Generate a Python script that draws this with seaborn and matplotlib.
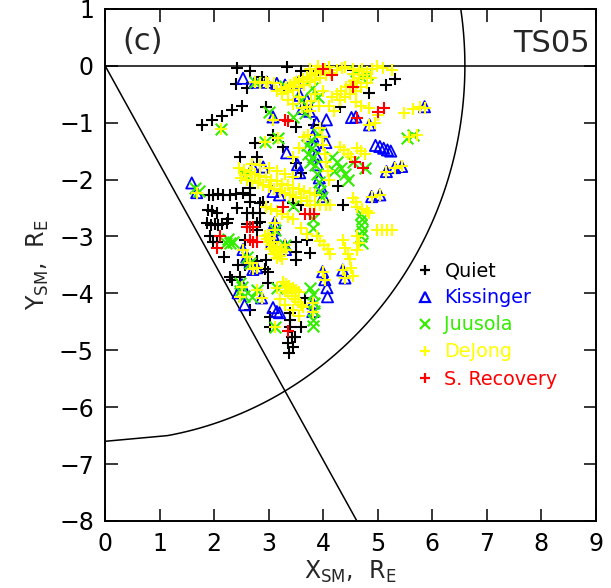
import numpy as np
import pandas as pd
import matplotlib
matplotlib.use("Agg")
import matplotlib.pyplot as plt
from matplotlib.lines import Line2D
import seaborn as sns

# Observed positions (X_SM, Y_SM in Earth radii) for each event group
quiet_pts = np.array([
    (2.42, -0.04), (2.65, -0.10), (2.87, -0.19), (2.40, -0.32), (2.60, -0.39), (3.33, -0.02),
    (3.60, -0.10), (3.75, -0.10), (3.90, -0.07), (4.54, -0.07), (4.85, -0.48), (5.16, -0.34),
    (5.31, -0.23), (1.78, -1.04), (1.96, -0.95), (2.14, -0.88), (2.33, -0.77), (2.51, -0.70),
    (2.96, -0.72), (4.30, -0.72), (3.51, -1.07), (3.84, -1.04), (3.08, -1.21), (3.26, -1.42),
    (2.75, -1.35), (2.47, -1.60), (2.78, -1.60), (3.51, -1.71), (3.60, -1.88), (4.27, -2.12),
    (1.90, -2.27), (1.98, -2.27), (2.08, -2.25), (2.17, -2.28), (2.29, -2.27), (2.40, -2.25),
    (2.53, -2.24), (2.66, -2.27), (2.66, -2.39), (2.84, -2.41), (2.96, -2.48), (2.66, -2.14),
    (2.90, -2.40), (3.44, -2.41), (3.60, -2.44), (4.36, -2.44), (1.89, -2.53), (1.96, -2.55),
    (2.05, -2.58), (2.42, -2.50), (2.60, -2.58), (2.71, -2.58), (2.84, -2.58), (1.87, -2.76),
    (1.94, -2.80), (2.01, -2.79), (2.08, -2.80), (2.14, -2.79), (2.23, -2.76), (2.25, -2.70),
    (2.60, -2.79), (2.78, -2.76), (2.84, -2.74), (2.78, -2.88), (1.92, -3.00), (1.98, -3.09),
    (2.06, -3.10), (2.56, -3.06), (2.18, -3.36), (3.51, -3.09), (3.51, -3.27), (3.51, -3.41),
    (3.71, -3.06), (3.75, -3.29), (2.29, -3.71), (2.33, -3.76), (2.47, -3.71), (2.44, -3.50),
    (2.56, -3.50), (2.66, -3.46), (2.78, -3.44), (2.96, -3.41), (2.93, -3.58), (2.99, -3.62),
    (2.99, -3.81), (2.66, -4.29), (3.02, -4.41), (3.02, -4.59), (3.39, -4.34), (3.39, -4.46),
    (3.39, -4.60), (3.42, -4.76), (3.35, -4.87), (3.48, -4.76), (3.60, -4.59), (3.66, -4.08),
    (3.38, -5.05), (3.45, -4.95),
])

kissinger_pts = np.array([
    (2.53, -0.22), (2.75, -0.29), (2.96, -0.29), (3.15, -0.31), (3.30, -0.34), (3.51, -0.29),
    (3.57, -0.52), (3.70, -0.60), (3.08, -0.90), (3.88, -1.00), (4.06, -0.95), (4.52, -0.91),
    (4.60, -0.90), (4.85, -1.04), (3.33, -1.53), (3.81, -1.24), (3.84, -1.40), (3.87, -1.57),
    (3.90, -1.74), (3.93, -1.97), (3.97, -2.15), (4.00, -2.30), (4.02, -1.15), (4.05, -1.35),
    (4.96, -1.40), (5.04, -1.42), (5.11, -1.45), (5.18, -1.48), (5.24, -1.50), (5.16, -1.86),
    (5.31, -1.79), (5.44, -1.77), (5.86, -0.72), (4.89, -2.30), (5.04, -2.27), (2.71, -1.78),
    (2.90, -1.78), (3.53, -1.74), (3.57, -1.88), (3.08, -2.21), (3.20, -2.27), (1.59, -2.06),
    (1.68, -2.23), (2.53, -3.23), (2.60, -3.36), (2.66, -3.46), (2.71, -3.58), (2.78, -3.55),
    (2.44, -3.99), (2.51, -3.85), (2.87, -4.08), (3.11, -2.76), (3.11, -2.88), (3.08, -2.97),
    (3.06, -3.09), (3.30, -3.15), (3.31, -3.23), (3.99, -3.62), (4.03, -3.76), (4.07, -3.90),
    (4.08, -4.06), (4.36, -3.59), (4.40, -3.73), (3.08, -4.25), (3.15, -4.32), (3.20, -4.34),
    (3.81, -4.17), (3.81, -4.32), (2.56, -4.20), (3.62, -0.75), (3.75, -0.80),
])

juusola_pts = np.array([
    (2.12, -1.11), (2.56, -1.92), (1.65, -2.14), (1.72, -2.21), (2.22, -3.12), (2.29, -3.11),
    (2.35, -3.10), (2.26, -3.05), (2.47, -3.81), (2.51, -3.88), (2.47, -3.95), (2.55, -4.05),
    (3.44, -0.90), (3.66, -0.83), (2.93, -1.34), (3.17, -1.27), (3.00, -0.82), (3.70, -1.40),
    (3.72, -1.55), (3.75, -1.70), (3.78, -1.30), (3.80, -1.45), (3.82, -1.60), (3.85, -1.75),
    (3.88, -1.90), (3.92, -2.05), (3.95, -2.20), (3.97, -2.30), (3.90, -1.20), (4.17, -1.60),
    (4.25, -1.70), (4.33, -1.80), (4.40, -1.90), (4.45, -2.00), (4.20, -1.85), (4.54, -1.69),
    (4.76, -1.79), (5.53, -1.27), (5.64, -1.21), (4.70, -2.60), (4.72, -2.70), (4.70, -2.80),
    (4.72, -2.90), (4.70, -3.00), (4.72, -3.11), (3.75, -3.90), (3.81, -4.02), (3.84, -4.17),
    (3.84, -4.31), (3.81, -4.46), (3.81, -4.58), (3.15, -3.90), (2.78, -3.94), (2.70, -4.06),
    (3.11, -4.60), (3.44, -2.47), (3.81, -2.70), (3.81, -2.85), (4.60, -0.10), (4.70, -0.20),
    (4.80, -0.15), (3.80, -0.40), (3.90, -0.55), (3.60, -0.60), (3.30, -0.35), (2.75, -0.29),
    (3.11, -2.88), (3.30, -3.15), (2.60, -3.36), (2.66, -3.46),
])

dejong_pts = np.array([
    (3.15, -0.45), (3.23, -0.41), (3.31, -0.38), (3.39, -0.34), (3.47, -0.31), (3.55, -0.27),
    (3.63, -0.24), (3.71, -0.20), (3.79, -0.17), (3.87, -0.13), (3.95, -0.10), (4.03, -0.06),
    (4.11, -0.03), (3.25, -0.50), (3.35, -0.46), (3.45, -0.42), (3.55, -0.38), (3.65, -0.33),
    (3.75, -0.29), (3.85, -0.25), (3.95, -0.21), (4.05, -0.17), (4.15, -0.12), (4.25, -0.08),
    (4.35, -0.04), (4.17, -0.55), (4.25, -0.49), (4.33, -0.44), (4.41, -0.38), (4.49, -0.33),
    (4.57, -0.27), (4.65, -0.22), (4.73, -0.16), (4.81, -0.11), (4.90, -0.05), (4.98, -0.01),
    (4.30, -0.60), (4.40, -0.55), (4.50, -0.50), (4.60, -0.44), (4.70, -0.38), (4.80, -0.30),
    (4.88, -0.22), (3.90, -0.01), (3.75, -0.05), (4.40, -0.02), (4.55, -0.05), (4.65, -0.10),
    (5.09, -0.04), (5.27, -0.07), (2.85, -0.30), (2.98, -0.30), (3.10, -0.31), (3.35, -0.60),
    (3.45, -0.68), (3.55, -0.55), (3.70, -0.72), (3.85, -0.50), (4.00, -0.45), (4.10, -0.70),
    (4.20, -0.80), (3.08, -0.95), (3.65, -1.25), (3.72, -1.22), (3.45, -1.60), (3.55, -1.45),
    (4.60, -0.63), (4.70, -0.70), (4.85, -0.74), (5.00, -0.86), (4.85, -1.04), (4.95, -1.00),
    (5.49, -0.83), (5.64, -0.76), (5.77, -0.72), (5.86, -0.74), (5.73, -1.21), (5.58, -1.25),
    (4.63, -1.44), (4.70, -1.50), (4.76, -1.56), (4.30, -1.42), (4.38, -1.48), (4.46, -1.55),
    (4.52, -1.60), (2.12, -1.11), (2.56, -1.92), (2.93, -1.34), (3.17, -1.27), (3.95, -1.10),
    (3.98, -1.25), (4.00, -1.40), (4.03, -1.55), (4.05, -1.70), (4.08, -1.85), (4.10, -2.00),
    (2.45, -1.80), (2.55, -1.83), (2.65, -1.86), (2.75, -1.90), (2.85, -1.93), (2.95, -1.96),
    (3.05, -2.00), (3.15, -2.03), (3.25, -2.07), (3.35, -2.10), (3.45, -2.14), (3.55, -2.17),
    (3.65, -2.20), (3.75, -2.24), (3.85, -2.27), (2.50, -1.98), (2.60, -2.00), (2.70, -2.03),
    (2.80, -2.06), (2.90, -2.10), (3.00, -2.13), (3.10, -2.17), (3.20, -2.20), (3.30, -2.24),
    (3.40, -2.27), (3.50, -2.30), (3.60, -2.33), (3.70, -2.37), (2.70, -1.72), (2.85, -1.75),
    (3.00, -1.80), (3.15, -1.85), (3.30, -1.90), (3.45, -1.95), (2.96, -2.48), (3.05, -2.52),
    (3.15, -2.56), (3.25, -2.60), (3.35, -2.65), (3.44, -2.70), (3.75, -2.45), (3.85, -2.45),
    (3.95, -2.45), (4.05, -2.45), (4.12, -2.45), (2.93, -3.00), (2.97, -3.05), (3.00, -3.10),
    (3.04, -3.15), (3.08, -3.20), (3.12, -3.25), (3.16, -3.30), (3.20, -3.35), (3.24, -3.40),
    (2.98, -2.98), (3.03, -3.03), (3.10, -3.10), (3.15, -3.18), (3.20, -3.22), (3.25, -3.28),
    (3.05, -3.22), (3.10, -3.30), (3.15, -3.38), (3.88, -3.00), (3.95, -3.08), (4.02, -3.15),
    (4.08, -3.22), (4.12, -3.30), (3.60, -2.85), (3.70, -2.95), (3.26, -3.80), (3.32, -3.83),
    (3.38, -3.87), (3.44, -3.90), (3.50, -3.94), (3.56, -3.98), (3.30, -3.95), (3.36, -4.00),
    (3.42, -4.05), (3.48, -4.10), (3.54, -4.15), (3.60, -4.20), (3.63, -4.24), (3.20, -4.10),
    (3.30, -4.20), (3.45, -4.30), (3.55, -4.40), (2.53, -3.23), (2.60, -3.36), (2.66, -3.46),
    (2.71, -3.58), (2.78, -3.55), (2.51, -3.88), (2.47, -4.06), (2.87, -4.08), (2.78, -3.94),
    (3.15, -3.90), (3.11, -4.60), (3.11, -2.76), (3.11, -2.88), (3.30, -3.15), (3.31, -3.23),
    (3.99, -3.62), (4.03, -3.76), (4.36, -3.59), (4.40, -3.73), (3.81, -4.17), (3.81, -4.32),
    (4.63, -2.48), (4.72, -2.52), (4.80, -2.55), (4.85, -2.58), (4.98, -2.88), (5.08, -2.88),
    (5.18, -2.88), (5.27, -2.88), (4.63, -3.00), (4.65, -3.12), (4.63, -3.23), (4.50, -3.40),
    (4.52, -3.55), (4.54, -3.70), (4.36, -3.06), (4.40, -3.20), (4.45, -3.30), (4.54, -2.32),
    (4.60, -2.39), (4.89, -2.30), (5.04, -2.27), (5.16, -1.86), (5.31, -1.79), (5.44, -1.77),
    (1.68, -2.23), (2.75, -0.29), (2.96, -0.29), (3.51, -0.29), (3.62, -0.75), (3.75, -0.80),
    (4.55, -0.15), (4.62, -0.30), (4.72, -0.05), (3.78, -0.62), (3.92, -0.70),
])

recovery_pts = np.array([
    (4.00, -0.06), (4.16, -0.16), (4.54, -0.37), (3.30, -0.95), (3.35, -0.97), (4.63, -0.91),
    (5.00, -0.81), (5.12, -0.74), (4.58, -1.70), (4.74, -1.80), (3.26, -2.48), (3.66, -2.60),
    (3.75, -2.60), (3.84, -2.60), (2.60, -2.83), (2.66, -2.83), (2.71, -2.83), (2.66, -3.06),
    (2.71, -3.09), (2.78, -3.09), (2.10, -3.00), (2.05, -3.20), (3.35, -4.66),
])

group_names = ["Quiet", "Kissinger", "Juusola", "DeJong", "S. Recovery"]
group_colors = ["black", "#0000ff", "#33ee00", "#ffff00", "#ff0000"]
group_markers = ["+", "^", "x", "+", "+"]
group_points = [quiet_pts, kissinger_pts, juusola_pts, dejong_pts, recovery_pts]

geo_radius = 6.6          # geosynchronous orbit, R_E
boundary_angle = 60.0     # dawn-side sector boundary, degrees below +X

sns.set_theme(style="ticks")
plt.rcParams["font.family"] = ["DejaVu Sans"]
plt.rcParams["mathtext.default"] = "regular"

fig = plt.figure(figsize=(6.11, 5.88), dpi=100)
ax = fig.add_axes([0.172, 0.114, 0.803, 0.871])

# Reference geometry: Y=0 line, sector boundary and the geosynchronous arc
ax.axhline(0, color="black", lw=1.1, zorder=1)
slope = np.tan(np.radians(boundary_angle))
bx = np.array([0.0, 8.0 / slope])
ax.plot(bx, -slope * bx, color="black", lw=1.1, zorder=1)
top_angle = np.degrees(np.arcsin(1.0 / geo_radius))
ang = np.radians(np.concatenate([[-90.0], np.linspace(-80.0, top_angle, 120)]))
ax.plot(geo_radius * np.cos(ang), geo_radius * np.sin(ang), color="black", lw=1.1, zorder=1)

for name, col, mk, pts in zip(group_names, group_colors, group_markers, group_points):
    df = pd.DataFrame({"x": pts[:, 0], "y": pts[:, 1]})
    if mk == "^":
        sns.scatterplot(data=df, x="x", y="y", marker=mk, s=65, color=col,
                        linewidth=1.3, ax=ax, zorder=3, legend=False)
        coll = ax.collections[-1]
        coll.set_facecolor("none")
        coll.set_edgecolor(col)
    else:
        sns.scatterplot(data=df, x="x", y="y", marker=mk, s=70, color=col,
                        linewidth=1.5, ax=ax, zorder=3, legend=False)

ax.set_xlim(0, 9)
ax.set_ylim(-8, 1)
ax.set_xticks(range(0, 10))
ax.set_yticks(range(-8, 2))
ax.tick_params(direction="in", top=True, right=True, length=9, width=1.1,
               labelsize=17, pad=8, colors="black")
for sp in ax.spines.values():
    sp.set_linewidth(1.4)
    sp.set_color("black")
ax.set_xlabel("X$_{SM}$,  R$_E$", fontsize=17, labelpad=2)
ax.set_ylabel("Y$_{SM}$,  R$_E$", fontsize=17, labelpad=6)

ax.text(0.035, 0.936, "(c)", transform=ax.transAxes, fontsize=22, va="center", ha="left")
ax.text(0.988, 0.932, "TS05", transform=ax.transAxes, fontsize=22, va="center", ha="right")

handles = [Line2D([], [], ls="none", marker=m, color=c, markersize=7,
                  markeredgewidth=1.6, markerfacecolor="none")
           for m, c in zip(group_markers, group_colors)]
ax.legend(handles, group_names, loc="upper left", bbox_to_anchor=(0.633, 0.507),
          frameon=False, fontsize=13.8, handlelength=1.0, handletextpad=0.5,
          labelspacing=0.42, borderpad=0, borderaxespad=0, labelcolor=group_colors)

fig.savefig("out.png", dpi=100)
